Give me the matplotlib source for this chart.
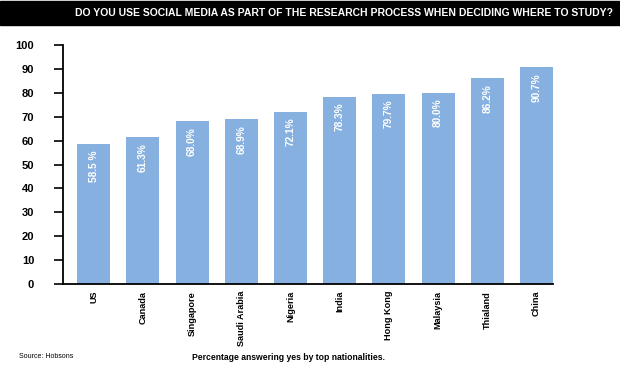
import matplotlib.pyplot as plt
from matplotlib.patches import Rectangle

# Dades
countries = ['US', 'Canada', 'Singapore', 'Saudi Arabia', 'Nigeria', 'India',
             'Hong Kong', 'Malaysia', 'Thialand', 'China']
values = [58.5, 61.3, 68.0, 68.9, 72.1, 78.3, 79.7, 80.0, 86.2, 90.7]
value_labels = ['58.5 %', '61.3%', '68.0%', '68.9%', '72.1%', '78.3%',
                '79.7%', '80.0%', '86.2%', '90.7%']
y_ticks = [0, 10, 20, 30, 40, 50, 60, 70, 80, 90, 100]

title = 'DO YOU USE SOCIAL MEDIA AS PART OF THE RESEARCH PROCESS WHEN DECIDING WHERE TO STUDY?'
narrow = ['Liberation Sans Narrow', 'Liberation Sans', 'DejaVu Sans']

fig = plt.figure(figsize=(6.2, 3.7), dpi=100)
ax = fig.add_axes([0.101, 0.2324, 0.791, 0.646])

x = range(len(countries))
bars = ax.bar(x, values, width=0.67, color='#86b0e0')

for b, lab in zip(bars, value_labels):
    ax.text(b.get_x() + b.get_width() / 2, b.get_height() - 2.5, lab,
            rotation=90, ha='center', va='top', color='white',
            fontsize=7.3, fontweight='bold', family=narrow)

ax.set_xlim(-0.63, 9.335)
ax.set_ylim(0, 100)
ax.set_yticks(y_ticks)
ax.set_yticklabels([str(t) for t in y_ticks], fontsize=8, fontweight='bold',
                   family=narrow)
ax.set_xticks(list(x))
ax.set_xticklabels(countries, rotation=90, fontsize=6.6, fontweight='bold',
                   family=narrow)
ax.tick_params(axis='x', length=0, pad=5)
ax.tick_params(axis='y', length=6.5, width=1.2, direction='out', pad=14)
for s in ['top', 'right']:
    ax.spines[s].set_visible(False)
ax.spines['left'].set_linewidth(1.3)
ax.spines['bottom'].set_linewidth(1.3)

# Barra del títol
fig.patches.append(Rectangle((0, 1 - 25 / 370), 1, 24 / 370,
                             transform=fig.transFigure, color='black'))
fig.text(0.988, 1 - 13 / 370, title, ha='right', va='center', color='white',
         fontsize=7.5, fontweight='bold', family=narrow)

fig.text(0.03, 1 - 356 / 370, 'Source: Hobsons', fontsize=5, va='center',
         family=narrow)
fig.text(0.465, 1 - 358 / 370, 'Percentage answering yes by top nationalities.',
         fontsize=6.2, fontweight='bold', ha='center', va='center', family=narrow)

fig.savefig('out.png', dpi=100)
